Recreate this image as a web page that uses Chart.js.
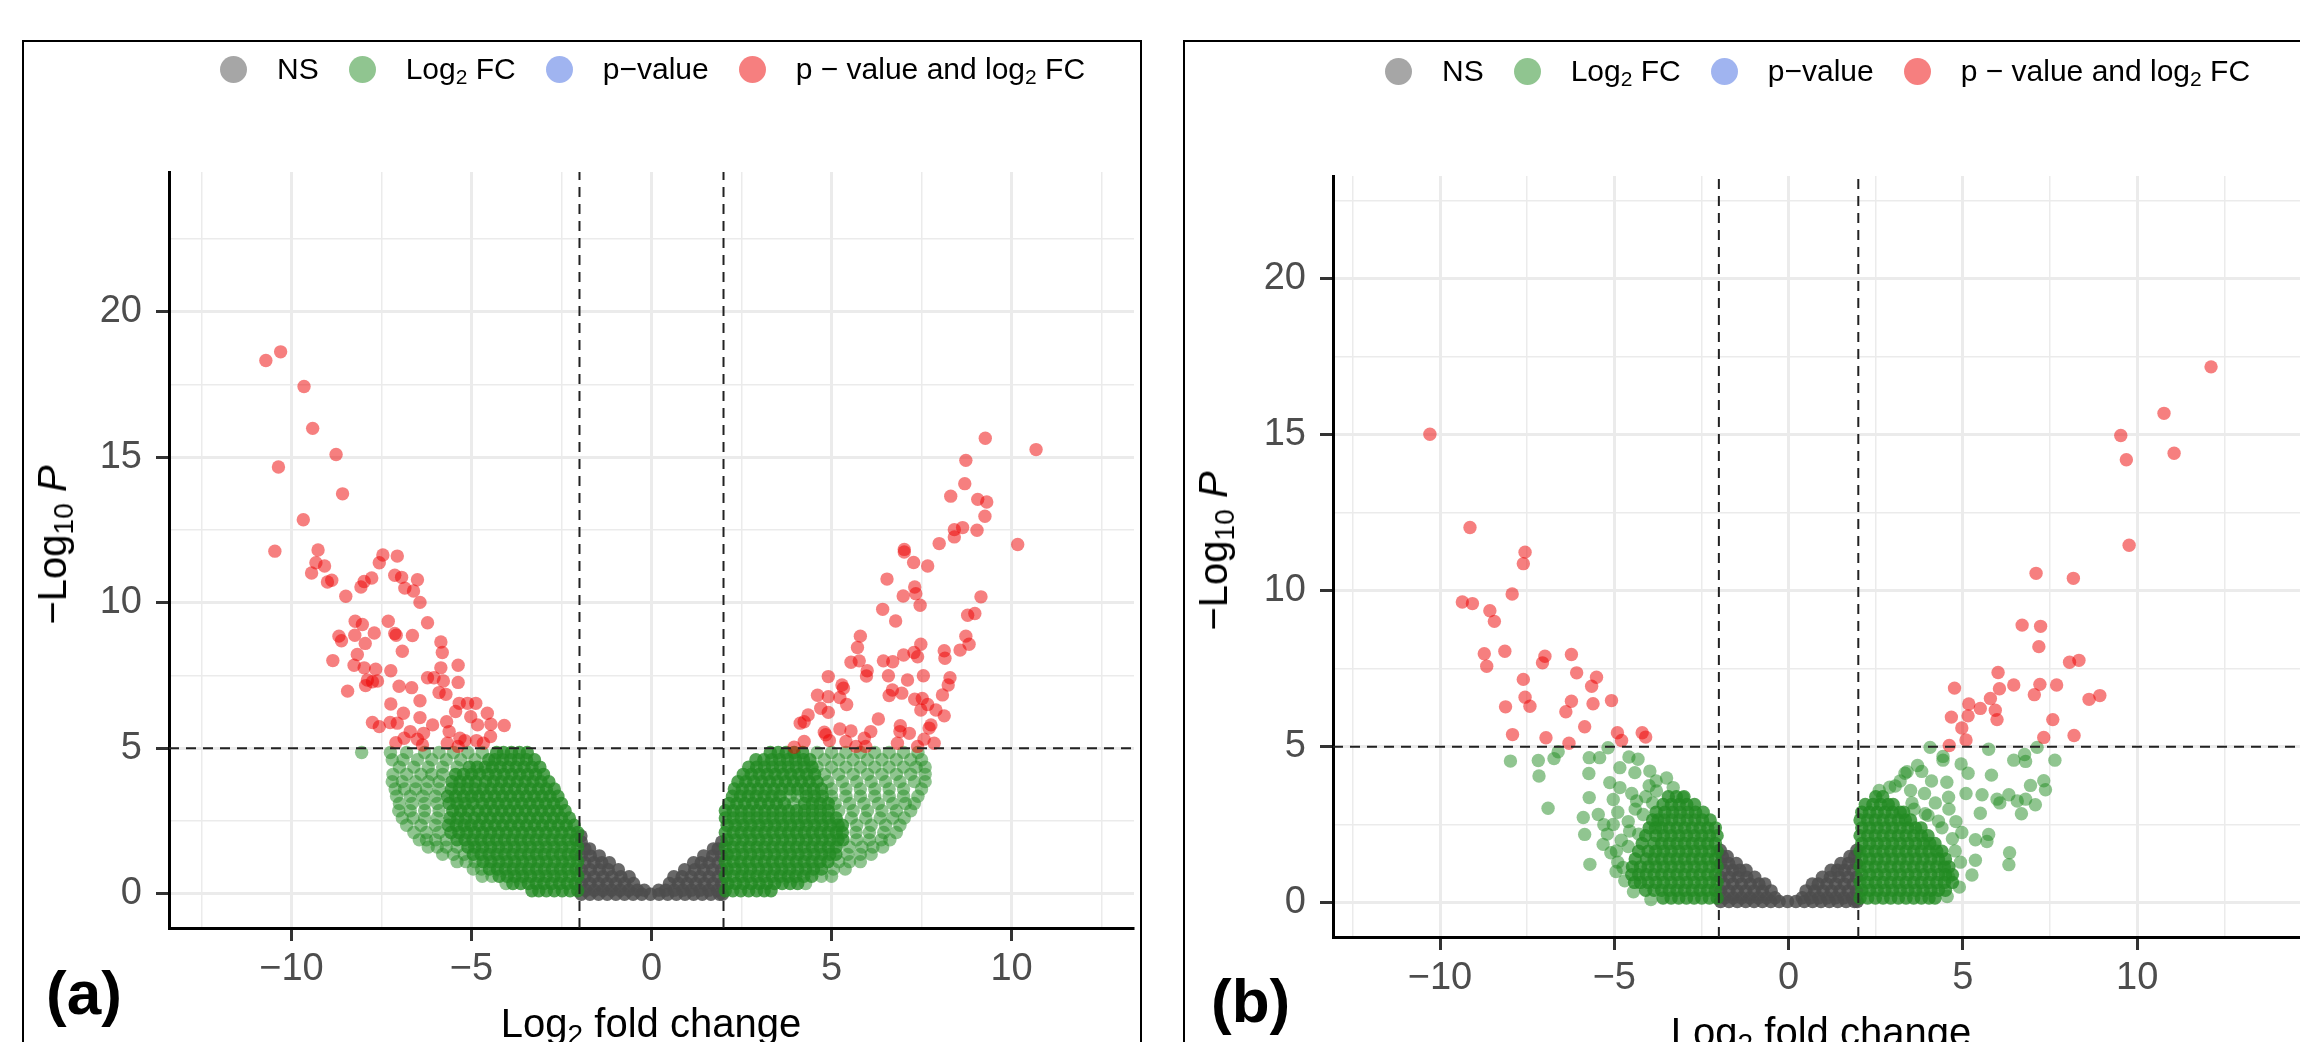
<!DOCTYPE html>
<html><head><meta charset="utf-8">
<script src="https://cdn.jsdelivr.net/npm/chart.js@4/dist/chart.umd.min.js"></script>
<style>
html,body{margin:0;padding:0;width:2300px;height:1042px;overflow:hidden;background:#fff;font-family:"Liberation Sans",Arial,sans-serif;}
.box{position:absolute;top:40px;height:1020px;border:2px solid #000;box-sizing:border-box;}
canvas{position:absolute;}
.legend{position:absolute;height:40px;display:flex;align-items:center;font-size:30px;color:#000;white-space:nowrap;}
.dot{width:27px;height:27px;border-radius:50%;margin-right:30px;flex:none;}
.lt{margin-right:30px;}
sub{font-size:0.7em;vertical-align:-0.25em;line-height:0;}
.ytitle{position:absolute;transform:translate(-50%,-50%) rotate(-90deg);font-size:40px;color:#000;white-space:nowrap;line-height:40px;}
.xtitle{position:absolute;transform:translateX(-50%);font-size:40px;color:#000;white-space:nowrap;line-height:40px;}
.tag{position:absolute;font-size:62px;font-weight:bold;color:#000;line-height:62px;}
</style></head><body>
<div class="box" style="left:22px;width:1120px;"></div>
<div class="box" style="left:1183px;width:1180px;"></div>

<canvas id="ca" width="1120" height="1002" style="left:22px;top:40px;"></canvas>
<canvas id="cb" width="1150" height="1002" style="left:1183px;top:40px;"></canvas>

<div class="legend" style="left:220px;top:49px;">
 <span class="dot" style="background:rgba(77,77,77,0.5)"></span><span class="lt">NS</span>
 <span class="dot" style="background:rgba(34,139,34,0.5)"></span><span class="lt">Log<sub>2</sub> FC</span>
 <span class="dot" style="background:rgba(65,105,225,0.5)"></span><span class="lt">p&#8722;value</span>
 <span class="dot" style="background:rgba(238,0,0,0.5)"></span><span>p &#8722; value and log<sub>2</sub> FC</span>
</div>
<div class="legend" style="left:1385px;top:51px;">
 <span class="dot" style="background:rgba(77,77,77,0.5)"></span><span class="lt">NS</span>
 <span class="dot" style="background:rgba(34,139,34,0.5)"></span><span class="lt">Log<sub>2</sub> FC</span>
 <span class="dot" style="background:rgba(65,105,225,0.5)"></span><span class="lt">p&#8722;value</span>
 <span class="dot" style="background:rgba(238,0,0,0.5)"></span><span>p &#8722; value and log<sub>2</sub> FC</span>
</div>

<div class="ytitle" style="left:52px;top:545px;">&#8722;Log<sub>10</sub> <i>P</i></div>
<div class="ytitle" style="left:1213px;top:551px;">&#8722;Log<sub>10</sub> <i>P</i></div>
<div class="xtitle" style="left:651px;top:1003px;">Log<sub>2</sub> fold change</div>
<div class="xtitle" style="left:1821px;top:1012px;">Log<sub>2</sub> fold change</div>
<div class="tag" style="left:46px;top:962px;">(a)</div>
<div class="tag" style="left:1211px;top:970px;">(b)</div>

<script>
// ---------- axis / tick data ----------
const xGrid = [-12.5,-10,-7.5,-5,-2.5,0,2.5,5,7.5,10,12.5];
const yGrid = [0,2.5,5,7.5,10,12.5,15,17.5,20,22.5];
const xTickValues = [-10,-5,0,5,10];
const xTickLabels = ['\u221210','\u22125','0','5','10'];
const yTickValues = [0,5,10,15,20];
const yTickLabels = ['0','5','10','15','20'];
const fcCutoff = 2;
const pCutoff = 5;

// ---------- panel (a) ----------
const aRed = [[-10.71,18.32],[-10.30,18.62],[-9.65,17.43],[-9.41,15.99],[-8.76,15.09],[-10.36,14.66],[-8.58,13.74],[-9.67,12.85],[-10.46,11.77],[-9.26,11.81],[-9.32,11.37],[-9.08,11.26],[-9.44,11.02],[-9.0,10.71],[-8.88,10.77],[-8.49,10.22],[-8.07,10.54],[-7.98,10.73],[-7.77,10.85],[-7.56,11.37],[-7.46,11.64],[-7.06,11.6],[-7.13,10.94],[-6.94,10.87],[-6.5,10.79],[-6.85,10.5],[-6.61,10.4],[-6.43,10.01],[-6.22,9.31],[-8.23,9.36],[-8.03,9.25],[-7.31,9.36],[-8.68,8.85],[-8.61,8.69],[-8.24,8.88],[-7.70,8.96],[-7.13,8.94],[-7.09,8.88],[-6.64,8.87],[-7.95,8.6],[-5.85,8.65],[-5.81,8.29],[-6.92,8.33],[-8.17,8.22],[-8.85,8.01],[-8.26,7.85],[-7.98,7.76],[-7.66,7.71],[-7.24,7.66],[-5.85,7.76],[-5.37,7.85],[-7.89,7.34],[-7.75,7.28],[-7.61,7.31],[-7.94,7.15],[-6.22,7.42],[-6.04,7.42],[-5.78,7.31],[-5.37,7.26],[-8.44,6.96],[-7.01,7.13],[-6.66,7.08],[-5.9,6.91],[-5.71,6.85],[-6.43,6.63],[-7.24,6.52],[-5.34,6.54],[-5.44,6.26],[-5.11,6.54],[-4.88,6.54],[-4.56,6.2],[-6.89,6.2],[-5.02,6.08],[-4.83,5.8],[-4.46,5.82],[-4.09,5.78],[-7.75,5.88],[-7.56,5.74],[-7.26,5.88],[-7.06,5.86],[-6.43,6.05],[-6.08,5.8],[-5.69,5.91],[-5.62,5.57],[-6.7,5.57],[-6.33,5.51],[-6.87,5.34],[-7.1,5.19],[-5.32,5.34],[-5.18,5.26],[-4.86,5.26],[-4.47,5.4],[-4.67,5.17],[-5.67,5.17],[-6.36,5.11],[-6.5,5.31],[-5.37,5.06],
[9.27,15.65],[10.68,15.26],[8.73,14.89],[8.70,14.09],[8.31,13.66],[9.06,13.55],[9.31,13.46],[9.26,12.97],[8.41,12.51],[8.64,12.58],[8.41,12.26],[9.04,12.49],[7.99,12.03],[7.02,11.83],[7.02,11.74],[7.28,11.38],[7.67,11.26],[10.17,12.0],[6.54,10.81],[7.31,10.54],[7.34,10.31],[6.99,10.23],[7.46,9.91],[9.15,10.2],[6.42,9.77],[6.78,9.37],[8.78,9.57],[8.98,9.63],[5.80,8.85],[5.72,8.46],[8.73,8.85],[8.82,8.57],[8.57,8.37],[7.48,8.57],[7.29,8.29],[7.39,8.14],[7.0,8.2],[8.13,8.35],[8.15,8.09],[5.54,7.95],[5.77,8.0],[6.44,8.0],[6.7,7.97],[5.99,7.66],[5.97,7.48],[6.58,7.49],[7.11,7.34],[7.55,7.49],[8.29,7.42],[8.24,7.17],[4.91,7.46],[5.29,7.17],[5.33,7.06],[4.61,6.82],[4.91,6.77],[5.23,6.74],[6.69,7.0],[6.6,6.81],[6.95,6.89],[8.08,6.83],[7.31,6.68],[7.52,6.71],[5.42,6.5],[4.7,6.37],[4.91,6.23],[7.67,6.5],[7.48,6.31],[7.9,6.31],[8.13,6.11],[4.35,6.14],[4.24,5.91],[4.13,5.86],[6.3,6.0],[7.76,5.8],[7.71,5.69],[5.23,5.66],[5.54,5.59],[4.8,5.55],[4.84,5.46],[6.09,5.57],[6.91,5.77],[6.9,5.57],[7.16,5.51],[4.24,5.23],[4.94,5.26],[5.4,5.23],[5.91,5.34],[5.95,5.06],[6.83,5.17],[7.57,5.31],[7.85,5.17],[7.39,5.06],[3.96,5.03],[5.68,5.06]];

// green rows, dense core: [y, [x ...]]
const aGreenCoreRows = [
[0.1,[-2.05,-2.26,-2.48,-2.7,-2.92,-3.13,-3.32, 2.05,2.26,2.48,2.7,2.92,3.13,3.32]],
[0.35,[-2.12,-2.34,-2.55,-2.77,-2.99,-3.2,-3.42,-3.63,-3.85, 2.12,2.34,2.55,2.77,2.99,3.2,3.42,3.63,3.85,4.06]],
[0.6,[-2.05,-2.27,-2.5,-2.71,-2.93,-3.14,-3.36,-3.58,-3.8,-4.01,-4.23, 2.05,2.27,2.5,2.71,2.93,3.14,3.36,3.58,3.8,4.01,4.23,4.45]],
[0.85,[-2.1,-2.32,-2.53,-2.75,-2.97,-3.19,-3.41,-3.62,-3.84,-4.06,-4.28,-4.5, 2.1,2.32,2.53,2.75,2.97,3.19,3.41,3.62,3.84,4.06,4.28,4.5,4.72]],
[1.1,[-2.05,-2.27,-2.48,-2.7,-2.92,-3.14,-3.36,-3.58,-3.8,-4.02,-4.24,-4.46,-4.68, 2.05,2.27,2.48,2.7,2.92,3.14,3.36,3.58,3.8,4.02,4.24,4.46,4.68,4.9]],
[1.35,[-2.1,-2.31,-2.53,-2.75,-2.97,-3.19,-3.41,-3.63,-3.85,-4.07,-4.29,-4.51,-4.73,-4.95, 2.1,2.31,2.53,2.75,2.97,3.19,3.41,3.63,3.85,4.07,4.29,4.51,4.73,4.95,5.12]],
[1.6,[-2.05,-2.27,-2.49,-2.71,-2.93,-3.15,-3.37,-3.59,-3.81,-4.03,-4.25,-4.47,-4.69,-4.91,-5.1, 2.05,2.27,2.49,2.71,2.93,3.15,3.37,3.59,3.81,4.03,4.25,4.47,4.69,4.91,5.13]],
[1.85,[-2.1,-2.32,-2.54,-2.76,-2.98,-3.2,-3.42,-3.64,-3.86,-4.08,-4.3,-4.52,-4.74,-4.96,-5.18,-5.4, 2.1,2.32,2.54,2.76,2.98,3.2,3.42,3.64,3.86,4.08,4.3,4.52,4.74,4.96,5.18,5.32]],
[2.1,[-2.05,-2.27,-2.49,-2.71,-2.93,-3.15,-3.37,-3.59,-3.81,-4.03,-4.25,-4.47,-4.69,-4.91,-5.13,-5.35,-5.57, 2.05,2.27,2.49,2.71,2.93,3.15,3.37,3.59,3.81,4.03,4.25,4.47,4.69,4.91,5.13,5.3]],
[2.35,[-2.15,-2.37,-2.59,-2.81,-3.03,-3.25,-3.47,-3.69,-3.91,-4.13,-4.35,-4.57,-4.79,-5.01,-5.2,-5.42,-5.64, 2.1,2.32,2.54,2.76,2.98,3.2,3.42,3.64,3.86,4.08,4.3,4.52,4.74,4.96,5.18,5.3]],
[2.6,[-2.28,-2.5,-2.72,-2.94,-3.16,-3.38,-3.6,-3.82,-4.04,-4.26,-4.48,-4.7,-4.92,-5.16,-5.38,-5.6, 2.05,2.27,2.49,2.71,2.93,3.15,3.37,3.59,3.81,4.03,4.25,4.47,4.69,4.91,5.13]],
[2.85,[-2.4,-2.62,-2.84,-3.06,-3.28,-3.5,-3.72,-3.94,-4.16,-4.38,-4.6,-4.82,-5.08,-5.3,-5.52, 2.05,2.27,2.49,2.71,2.93,3.15,3.37,3.59,3.81,4.03,4.25,4.47,4.69,4.91]],
[3.1,[-2.5,-2.72,-2.94,-3.16,-3.38,-3.6,-3.82,-4.04,-4.26,-4.48,-4.7,-4.96,-5.18,-5.4,-5.62, 2.15,2.37,2.59,2.81,3.03,3.25,3.47,3.69,4.25,4.47,4.69,4.91]],
[3.35,[-2.6,-2.82,-3.04,-3.26,-3.48,-3.7,-3.92,-4.14,-4.36,-4.58,-4.8,-5.0,-5.22,-5.44,-5.66, 2.25,2.47,2.69,2.91,3.13,3.35,3.57,4.3,4.52,4.74]],
[3.6,[-2.7,-2.92,-3.14,-3.36,-3.58,-3.8,-4.02,-4.24,-4.46,-4.68,-4.9,-5.12,-5.34,-5.56, 2.3,2.52,2.74,2.96,3.18,3.4,3.62,3.84,4.06,4.28,4.5,4.72]],
[3.85,[-2.85,-3.07,-3.29,-3.51,-3.73,-3.95,-4.17,-4.39,-4.61,-4.88,-5.1,-5.32,-5.54, 2.4,2.62,2.84,3.06,3.28,3.5,3.72,3.94,4.16,4.38,4.6]],
[4.1,[-3.0,-3.22,-3.44,-3.66,-3.88,-4.1,-4.32,-4.54,-4.78,-5.0,-5.22,-5.44, 2.55,2.77,2.99,3.21,3.43,3.65,3.87,4.09,4.31,4.53]],
[4.35,[-3.1,-3.32,-3.54,-3.76,-3.98,-4.2,-4.42,-4.62,-4.84,-5.06, 2.7,2.92,3.14,3.36,3.58,3.8,4.02,4.24,4.46]],
[4.6,[-3.25,-3.47,-3.69,-3.91,-4.13,-4.35,-4.52, 2.9,3.12,3.34,3.56,3.78,4.0,4.22,4.4]],
[4.85,[-3.45,-3.67,-3.89,-4.11,-4.3, 3.3,3.52,3.74,3.96,4.2]]
];
// green rows, looser outer part
const aGreenOuterRows = [
[0.35,[-4.04, 4.28]],
[0.6,[-4.43,-4.7, 4.72,5.0]],
[0.85,[-4.72,-4.95, 5.05,5.38]],
[1.1,[-4.9,-5.15,-5.4, 5.2,5.5,5.8]],
[1.35,[-5.2,-5.5,-5.8, 5.45,5.8,6.1]],
[1.6,[-5.4,-5.7,-5.95,-6.2, 5.5,5.85,6.15,6.42]],
[1.85,[-5.7,-6.0,-6.25,-6.45, 5.7,6.05,6.38,6.62]],
[2.1,[-5.9,-6.25,-6.6, 5.68,6.05,6.45,6.8]],
[2.35,[-6.0,-6.4,-6.8, 5.7,6.1,6.5,6.9]],
[2.6,[-5.95,-6.3,-6.62,-6.92, 5.55,5.95,6.35,6.7,7.02]],
[2.85,[-5.9,-6.3,-6.7,-7.02, 5.2,5.6,6.0,6.4,6.8,7.2]],
[3.1,[-5.95,-6.3,-6.65,-7.0, 3.95,5.1,5.5,5.9,6.3,6.7,7.05,7.3]],
[3.35,[-6.0,-6.35,-6.7,-7.08, 3.85,4.05,5.0,5.4,5.8,6.2,6.6,7.0,7.4]],
[3.6,[-5.9,-6.25,-6.55,-6.86,-7.12, 5.0,5.4,5.8,6.2,6.6,7.0,7.5]],
[3.85,[-5.9,-6.2,-6.55,-6.92,-7.2, 4.9,5.3,5.7,6.1,6.5,6.9,7.3,7.6]],
[4.1,[-5.8,-6.1,-6.4,-6.8,-7.18, 4.8,5.2,5.6,6.0,6.4,6.8,7.2,7.6]],
[4.35,[-5.4,-5.8,-6.2,-6.6,-7.0, 4.6,5.0,5.4,5.8,6.2,6.6,7.0,7.35,7.6]],
[4.6,[-4.9,-5.3,-5.7,-6.1,-6.5,-6.9,-7.2, 4.8,5.2,5.6,6.0,6.4,6.8,7.2,7.5]],
[4.85,[-4.7,-5.1,-5.5,-5.9,-6.3,-6.8,-7.25,-8.05, 4.6,5.0,5.4,5.8,6.2,6.6,7.0,7.4]]
];

const aGrayRows = [
[-0.02,[-1.95,-1.71,-1.47,-1.23,-0.99,-0.75,-0.51,-0.27,-0.03,0.21,0.45,0.69,0.93,1.17,1.41,1.65,1.89,1.97]],
[0.12,[-1.83,-1.59,-1.35,-1.11,-0.87,-0.63,-0.39,-0.2,0.2,0.39,0.63,0.87,1.11,1.35,1.59,1.83]],
[0.35,[-1.95,-1.71,-1.47,-1.23,-0.99,-0.75,-0.5,0.5,0.75,0.99,1.23,1.47,1.71,1.95]],
[0.58,[-1.85,-1.6,-1.35,-1.1,-0.85,-0.62,0.62,0.85,1.1,1.35,1.6,1.85]],
[0.82,[-1.95,-1.7,-1.45,-1.2,-0.92,0.92,1.2,1.45,1.7,1.95]],
[1.06,[-1.85,-1.6,-1.38,-1.17,1.17,1.38,1.6,1.85]],
[1.3,[-1.95,-1.7,-1.45,1.45,1.7,1.95]],
[1.54,[-1.85,-1.72,1.72,1.85]],
[1.78,[-1.95,1.95]],
[1.98,[-1.96]]
];

// ---------- panel (b) ----------
const bRed = [[-10.29,15.02],[-9.14,12.03],[-7.56,11.24],[-7.61,10.87],[-7.93,9.9],[-9.36,9.64],[-9.07,9.59],[-8.57,9.36],[-8.44,9.02],[-8.14,8.06],[-8.73,7.98],[-8.66,7.58],[-6.99,7.9],[-7.06,7.69],[-6.23,7.96],[-6.08,7.37],[-5.51,7.23],[-5.65,6.94],[-7.61,7.16],[-7.56,6.59],[-7.42,6.3],[-8.12,6.28],[-6.23,6.46],[-6.39,6.12],[-5.61,6.38],[-5.08,6.48],[-5.85,5.64],[-7.92,5.39],[-6.96,5.29],[-6.3,5.11],[-4.91,5.45],[-4.79,5.2],[-4.2,5.45],[-4.1,5.31],
[12.12,17.18],[10.77,15.69],[9.53,14.98],[11.06,14.41],[9.69,14.2],[9.77,11.46],[7.1,10.56],[8.17,10.4],[6.7,8.9],[7.23,8.86],[7.18,8.21],[8.06,7.71],[8.33,7.77],[6.01,7.38],[6.46,6.98],[7.21,7.0],[7.69,6.98],[7.05,6.67],[4.76,6.88],[6.05,6.86],[5.79,6.55],[5.17,6.37],[5.5,6.23],[5.93,6.17],[5.98,5.87],[5.15,5.99],[4.67,5.95],[4.97,5.6],[5.09,5.22],[4.61,5.04],[7.58,5.87],[7.32,5.3],[8.19,5.36],[8.62,6.52],[8.93,6.64]];

const bGreenCoreRows = [
[0.15,[-2.05,-2.27,-2.49,-2.71,-2.93,-3.15,-3.37,-3.6, 2.05,2.27,2.49,2.71,2.93,3.15,3.37,3.59,3.81,4.03,4.2]],
[0.4,[-2.1,-2.32,-2.54,-2.76,-2.98,-3.2,-3.42,-3.64,-3.86,-4.1, 2.1,2.32,2.54,2.76,2.98,3.2,3.42,3.64,3.86,4.08,4.3,4.5]],
[0.65,[-2.05,-2.27,-2.49,-2.71,-2.93,-3.15,-3.37,-3.59,-3.81,-4.03,-4.25,-4.42, 2.05,2.27,2.49,2.71,2.93,3.15,3.37,3.59,3.81,4.03,4.25,4.47,4.7]],
[0.9,[-2.1,-2.32,-2.54,-2.76,-2.98,-3.2,-3.42,-3.64,-3.86,-4.08,-4.3,-4.5, 2.1,2.32,2.54,2.76,2.98,3.2,3.42,3.64,3.86,4.08,4.3,4.5,4.7]],
[1.15,[-2.05,-2.27,-2.49,-2.71,-2.93,-3.15,-3.37,-3.59,-3.81,-4.03,-4.25,-4.48, 2.05,2.27,2.49,2.71,2.93,3.15,3.37,3.59,3.81,4.03,4.25,4.47,4.6]],
[1.4,[-2.1,-2.32,-2.54,-2.76,-2.98,-3.2,-3.42,-3.64,-3.86,-4.08,-4.4, 2.1,2.32,2.54,2.76,2.98,3.2,3.42,3.64,3.86,4.08,4.3,4.5]],
[1.65,[-2.05,-2.27,-2.49,-2.71,-2.93,-3.15,-3.37,-3.59,-3.81,-4.03,-4.3, 2.05,2.27,2.49,2.71,2.93,3.15,3.37,3.59,3.81,4.03,4.25,4.4]],
[1.9,[-2.1,-2.32,-2.54,-2.76,-2.98,-3.2,-3.42,-3.64,-3.86,-4.2, 2.1,2.32,2.54,2.76,2.98,3.2,3.42,3.64,3.86,4.05,4.2]],
[2.15,[-2.05,-2.27,-2.49,-2.71,-2.93,-3.15,-3.37,-3.59,-3.81,-4.1, 2.05,2.27,2.49,2.71,2.93,3.15,3.37,3.59,3.81,4.0]],
[2.4,[-2.1,-2.32,-2.54,-2.76,-2.98,-3.2,-3.42,-3.64,-3.82,-4.0, 2.1,2.32,2.54,2.76,2.98,3.2,3.42,3.64,3.8]],
[2.65,[-2.25,-2.47,-2.69,-2.91,-3.13,-3.35,-3.57,-3.75,-3.9, 2.05,2.27,2.49,2.71,2.93,3.15,3.35,3.5]],
[2.9,[-2.45,-2.67,-2.89,-3.11,-3.33,-3.55,-3.8, 2.1,2.32,2.54,2.76,2.98,3.2,3.3]],
[3.15,[-2.7,-2.92,-3.14,-3.36,-3.6, 2.2,2.42,2.64,2.86,3.0]],
[3.4,[-3.0,-3.22,-3.45, 2.5,2.7]]
];
const bGreenScatter = [[-7.98,4.54],[-7.18,4.56],[-7.16,4.06],[-6.9,3.03],[-6.73,4.62],[-6.61,4.84],[-5.72,4.65],[-5.42,4.65],[-5.18,4.97],[-5.73,4.14],[-5.72,3.37],[-5.89,2.73],[-5.85,2.19],[-5.7,1.23],[-5.46,2.83],[-5.13,3.85],[-4.84,4.33],[-4.58,4.67],[-4.32,4.6],[-3.98,4.22],[-4.41,4.17],[-4.84,3.69],[-5.03,3.31],[-5.03,2.51],[-5.32,1.87],[-4.94,1.66],[-4.75,1.13],[-4.56,2.3],[-4.17,2.83],[-4.36,3.26],[-3.79,3.58],[-3.31,3.69],[-3.03,3.37],[-4.9,1.3],[-5.1,1.6],[-4.8,2.0],[-5.2,2.2],[-4.6,2.6],[-4.9,2.9],[-4.4,3.0],[-5.3,2.5],[-4.5,3.5],[-4.1,3.4],[-3.8,3.9],[-3.5,4.0],[-4.0,3.75],[-3.9,3.2],[-4.3,2.2],[-4.6,1.8],[-4.7,0.7],[-4.95,1.0],[-4.45,0.35],[-3.95,0.1],
[4.06,4.98],[4.43,4.69],[4.43,4.57],[4.95,4.45],[5.15,4.15],[5.74,4.92],[5.82,4.09],[6.46,4.57],[6.77,4.75],[6.8,4.53],[7.13,4.98],[7.64,4.57],[7.32,3.91],[7.37,3.62],[6.94,3.76],[6.32,3.46],[6.56,3.26],[6.8,3.32],[7.08,3.14],[6.68,2.85],[6.06,3.2],[5.98,3.32],[5.55,3.46],[5.5,2.87],[5.09,3.5],[4.54,3.86],[4.59,3.38],[4.21,3.2],[3.82,4.21],[3.34,4.15],[3.06,3.74],[3.54,3.2],[3.92,2.85],[4.3,2.61],[4.97,2.25],[5.36,2.02],[5.74,2.19],[5.69,1.96],[6.34,1.6],[6.32,1.22],[5.36,1.36],[5.26,0.89],[4.93,1.3],[4.59,0.83],[4.78,1.66],[3.5,3.6],[3.9,3.5],[4.1,3.9],[3.7,4.4],[4.6,3.0],[4.4,2.4],[3.2,3.9],[2.9,3.7],[2.6,3.6],[3.4,4.2],[4.0,2.8],[4.8,2.6],[3.6,3.0],[4.9,0.5],[4.7,2.05],[4.55,0.2]];

const bGrayRows = [
[0.04,[-1.95,-1.71,-1.47,-1.23,-0.99,-0.75,-0.51,-0.27,-0.03,0.21,0.45,0.69,0.93,1.17,1.41,1.65,1.89,1.97]],
[0.16,[-1.83,-1.59,-1.35,-1.11,-0.87,-0.63,-0.39,0.39,0.63,0.87,1.11,1.35,1.59,1.83]],
[0.38,[-1.95,-1.71,-1.47,-1.23,-0.99,-0.75,-0.5,0.5,0.75,0.99,1.23,1.47,1.71,1.95]],
[0.6,[-1.85,-1.6,-1.35,-1.1,-0.85,-0.68,0.68,0.85,1.1,1.35,1.6,1.85]],
[0.82,[-1.95,-1.7,-1.45,-1.2,-0.97,0.97,1.2,1.45,1.7,1.95]],
[1.04,[-1.85,-1.6,-1.4,-1.22,1.22,1.4,1.6,1.85]],
[1.26,[-1.95,-1.72,-1.5,1.5,1.72,1.95]],
[1.48,[-1.9,-1.76,1.76,1.9]],
[1.68,[-1.96,1.96]]
];

// ---------- helpers ----------
function fromRows(rows){const o=[];rows.forEach(r=>r[1].forEach(x=>o.push({x:x,y:r[0]})));return o;}
function fromPairs(p){return p.map(q=>({x:q[0],y:q[1]}));}
function isMajor(v){return Math.abs(v/5-Math.round(v/5))<1e-6;}

// dense clouds are drawn with stronger alpha to stand in for thousands of overlapping points
const NS_COL='rgba(77,77,77,0.85)', FC_CORE_COL='rgba(34,139,34,0.78)', FC_COL='rgba(34,139,34,0.5)', P_COL='rgba(65,105,225,0.5)', FCP_COL='rgba(238,0,0,0.5)';

function makePanel(id, o){
  const pt = (data,color,order)=>({data:data,backgroundColor:color,borderWidth:0,pointRadius:6.7,pointHoverRadius:6.7,order:order});
  const dashed = (data)=>({data:data,showLine:true,pointRadius:0,borderColor:'#222',borderWidth:2,borderDash:[10,7],order:0,fill:false});
  const tickFont = {family:'"Liberation Sans", Arial, sans-serif', size:38};
  new Chart(document.getElementById(id),{
    type:'scatter',
    data:{datasets:[
      pt(o.ns,NS_COL,5), pt(o.fcCore,FC_CORE_COL,4), pt(o.fc,FC_COL,3), pt([],P_COL,2), pt(o.fcp,FCP_COL,1),
      dashed([{x:-fcCutoff,y:o.yMin},{x:-fcCutoff,y:o.yMax}]),
      dashed([{x:fcCutoff,y:o.yMin},{x:fcCutoff,y:o.yMax}]),
      dashed([{x:o.xMin,y:pCutoff},{x:o.xMax,y:pCutoff}])
    ]},
    options:{
      responsive:false, animation:false, events:[], devicePixelRatio:1,
      layout:{padding:{top:o.padTop,right:o.padRight,left:0,bottom:0}},
      plugins:{legend:{display:false},tooltip:{enabled:false}},
      scales:{
        x:{type:'linear',min:o.xMin,max:o.xMax,
          afterBuildTicks:s=>{s.ticks=xGrid.map(v=>({value:v}));},
          afterFit:s=>{s.height=o.xAxisH;},
          grid:{color:'#EBEBEB',lineWidth:c=>isMajor(c.tick.value)?3:1.5,drawTicks:true,tickLength:13,tickWidth:3,
                tickColor:c=>isMajor(c.tick.value)?'#333':'rgba(0,0,0,0)'},
          border:{display:true,color:'#000',width:3},
          ticks:{autoSkip:false,maxRotation:0,minRotation:0,padding:6,color:'#4D4D4D',font:tickFont,
                 callback:v=>{const i=xTickValues.indexOf(v);return i>=0?xTickLabels[i]:'';}}
        },
        y:{type:'linear',min:o.yMin,max:o.yMax,
          afterBuildTicks:s=>{s.ticks=yGrid.map(v=>({value:v}));},
          afterFit:s=>{s.width=o.yAxisW;},
          grid:{color:'#EBEBEB',lineWidth:c=>isMajor(c.tick.value)?3:1.5,drawTicks:true,tickLength:13,tickWidth:3,
                tickColor:c=>isMajor(c.tick.value)?'#333':'rgba(0,0,0,0)'},
          border:{display:true,color:'#000',width:3},
          ticks:{autoSkip:false,padding:14,color:'#4D4D4D',font:tickFont,
                 callback:v=>{const i=yTickValues.indexOf(v);return i>=0?yTickLabels[i]:'';}}
        }
      }
    }
  });
}

makePanel('ca',{ns:fromRows(aGrayRows),fcCore:fromRows(aGreenCoreRows),fc:fromRows(aGreenOuterRows),fcp:fromPairs(aRed),
  xMin:-13.4,xMax:13.4,yMin:-1.18,yMax:24.8,padTop:132,padRight:8,xAxisH:114,yAxisW:147});
makePanel('cb',{ns:fromRows(bGrayRows),fcCore:fromRows(bGreenCoreRows),fc:fromPairs(bGreenScatter),fcp:fromPairs(bRed),
  xMin:-13.07,xMax:14.93,yMin:-1.1,yMax:23.3,padTop:136,padRight:24,xAxisH:105,yAxisW:150});
</script>
</body></html>
